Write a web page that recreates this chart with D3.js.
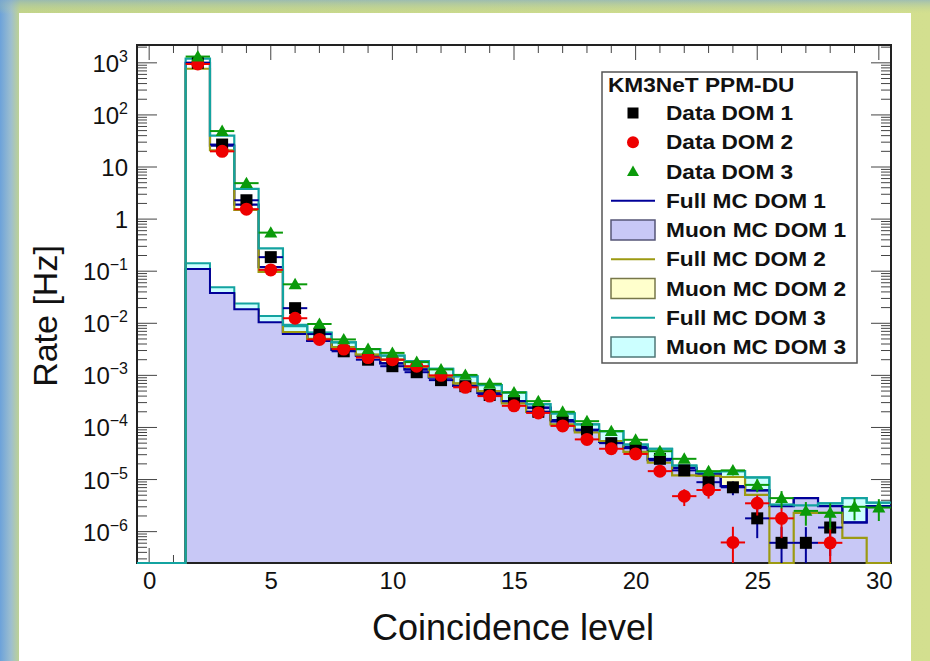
<!DOCTYPE html>
<html lang="en">
<head>
<meta charset="utf-8" />
<title>Coincidence level rates</title>
<script src="https://d3js.org/d3.v7.min.js"></script>
<style>
  body { margin: 0; }
  text { font-family: "Liberation Sans", Arial, Helvetica, sans-serif; }
</style>
</head>
<body>
<svg width="930" height="661"></svg>
<script>
// coincidence levels (bin centres)
var levels = d3.range(0, 31);

// Full MC, per DOM (Hz), bins 0..30
var fullMC1 = [0, 0, 1000, 25.7, 1.9, 0.12, 0.0064, 0.0046, 0.0031, 0.0024, 0.0017, 0.0013, 0.00091, 0.00063, 0.00046, 0.00032,
  0.00024, 0.000138, 0.000088, 0.000053, 0.000042, 0.0000235, 0.0000167, 0.000013, 0.0000075, 0.0000062, 0.0000031, 0.0000044, 0.0000031, 0.0000015, 0.0000031];
var fullMC2 = [0, 0, 770, 21, 1.5, 0.097, 0.0068, 0.005, 0.0035, 0.0025, 0.002, 0.00145, 0.00094, 0.0007, 0.0005, 0.00029,
  0.0002, 0.000115, 0.00008, 0.000055, 0.000034, 0.000021, 0.000012, 0.0000118, 0.0000112, 0.0000051, 0, 0.0000023, 0.0000023, 0.00000076, 0];
var fullMC3 = [0, 0, 1200, 40, 3.8, 0.275, 0.0093, 0.0066, 0.0043, 0.0032, 0.0024, 0.00187, 0.00134, 0.00096, 0.00065, 0.00047,
  0.00028, 0.000186, 0.000115, 0.000085, 0.000047, 0.000039, 0.0000186, 0.0000138, 0.0000145, 0.000011, 0.0000033, 0.0000032, 0.0000035, 0.0000044, 0.0000036];

// Muon-only MC, per DOM (Hz)
var muonMC1 = [0, 0, 0.11, 0.038, 0.0186, 0.0105, 0.0062, 0.0046, 0.0031, 0.0024, 0.0017, 0.0013, 0.00091, 0.00063, 0.00046, 0.00032,
  0.00024, 0.000138, 0.000088, 0.000053, 0.000042, 0.0000235, 0.0000167, 0.000013, 0.0000075, 0.0000062, 0.0000031, 0.0000044, 0.0000031, 0.0000015, 0.0000031];
var muonMC2 = [0, 0, 0.105, 0.036, 0.0178, 0.01, 0.0066, 0.005, 0.0035, 0.0025, 0.002, 0.00145, 0.00094, 0.0007, 0.0005, 0.00029,
  0.0002, 0.000115, 0.00008, 0.000055, 0.000034, 0.000021, 0.000012, 0.0000118, 0.0000112, 0.0000051, 0, 0.0000023, 0.0000023, 0.00000076, 0];
var muonMC3 = [0, 0, 0.142, 0.049, 0.024, 0.0138, 0.0088, 0.0066, 0.0043, 0.0032, 0.0024, 0.00187, 0.00134, 0.00096, 0.00065, 0.00047,
  0.00028, 0.000186, 0.000115, 0.000085, 0.000047, 0.000039, 0.0000186, 0.0000138, 0.0000145, 0.000011, 0.0000033, 0.0000032, 0.0000035, 0.0000044, 0.0000036];

// measured rates (null = no entry)
var data1 = [null, null, 1000, 27, 2.3, 0.186, 0.0195, 0.0062, 0.0029, 0.002, 0.0015, 0.00115, 0.00081, 0.00062, 0.00042, 0.00032,
  0.0002, 0.00013, 0.000091, 0.00005, 0.00004, 0.000025, 0.000015, 0.0000089, 0.0000071, 0.0000018, 0.00000061, 0.00000061, 0.0000012, null, null];
var data2 = [null, null, 950, 20, 1.55, 0.106, 0.0125, 0.0049, 0.0032, 0.0022, 0.002, 0.0015, 0.001, 0.00059, 0.0004, 0.00026,
  0.00019, 0.000107, 0.000059, 0.000039, 0.000031, 0.0000145, 0.0000048, 0.0000063, 0.00000062, 0.0000035, 0.0000018, null, 0.00000061, null, null];
var data3 = [null, null, 1320, 49, 4.9, 0.55, 0.056, 0.0097, 0.0049, 0.0032, 0.0027, 0.0018, 0.0013, 0.00102, 0.00069, 0.00047,
  0.00032, 0.0002, 0.000132, 0.000085, 0.000058, 0.000035, 0.000025, 0.0000145, 0.000015, 0.0000079, 0.0000044, 0.0000025, 0.0000023, 0.000003, 0.0000029];

// vertical errors on the measured rates (Hz)
var err1 = [0, 0, 0, 0, 0, 0, 0, 0, 0, 0, 0, 0, 0, 0, 0.000016, 0.000014,
  0.000011, 0.0000089, 0.0000075, 0.0000055, 0.0000049, 0.0000039, 0.000003, 0.0000023, 0.0000021, 0.00000105, 0.00000061, 0.00000061, 0.00000086, 0, 0];
var err2 = [0, 0, 0, 0, 0, 0, 0, 0, 0, 0, 0, 0, 0, 0, 0.000016, 0.000013,
  0.000011, 0.0000081, 0.000006, 0.0000049, 0.0000043, 0.000003, 0.0000017, 0.000002, 0.00000062, 0.00000146, 0.00000105, 0, 0.00000061, 0, 0];
var err3 = [0, 0, 0, 0, 0, 0, 0, 0, 0, 0, 0, 0, 0, 0, 0.000021, 0.000017,
  0.000014, 0.000011, 0.000009, 0.0000072, 0.0000059, 0.0000046, 0.0000039, 0.000003, 0.000003, 0.0000022, 0.0000016, 0.0000012, 0.0000012, 0.00000135, 0.0000013];

var xMajor = [0, 5, 10, 15, 20, 25, 30];
var yMajor = [1e3, 1e2, 10, 1, 1e-1, 1e-2, 1e-3, 1e-4, 1e-5, 1e-6];
var yExp = ["3", "2", "", "", "\u22121", "\u22122", "\u22123", "\u22124", "\u22125", "\u22126"];

var legendTitle = "KM3NeT PPM-DU";
var legendLabels = ["Data DOM 1", "Data DOM 2", "Data DOM 3", "Full MC DOM 1", "Muon MC DOM 1",
  "Full MC DOM 2", "Muon MC DOM 2", "Full MC DOM 3", "Muon MC DOM 3"];

// colours
var navy = "#000099", olive = "#9c9a12", teal = "#13a3a0";
var fillDom1 = "#c8c8f6", fillDom2 = "#ffffcc", fillDom3 = "#ccffff";
var red = "#ee0000", green = "#0a9a0a";

var svg = d3.select("svg");

// scales
var x = d3.scaleLinear().domain([-0.5, 30.5]).range([137, 891]);
var y = d3.scaleLog().domain([2.5e-7, 2200]).range([563, 45]);
var x0 = x.range()[0], x1 = x.range()[1], yb = y.range()[0], yt = y.range()[1];

// outer gradient frame + white pad
var defs = svg.append("defs");
var gh = defs.append("linearGradient").attr("id", "bgH");
gh.append("stop").attr("offset", "0%").attr("stop-color", "#6ca2da");
gh.append("stop").attr("offset", "1.2%").attr("stop-color", "#9ebfcf");
gh.append("stop").attr("offset", "2.2%").attr("stop-color", "#c3d58a");
gh.append("stop").attr("offset", "100%").attr("stop-color", "#d3df8f");
var gv = defs.append("linearGradient").attr("id", "bgV").attr("x1", 0).attr("x2", 0).attr("y1", 0).attr("y2", 1);
gv.append("stop").attr("offset", "0%").attr("stop-color", "#7fa9c8").attr("stop-opacity", 0.6);
gv.append("stop").attr("offset", "100%").attr("stop-color", "#c3d58a").attr("stop-opacity", 0);
defs.append("clipPath").attr("id", "frameClip")
  .append("rect").attr("x", x0).attr("y", yt).attr("width", x1 - x0).attr("height", yb - yt);
// slightly larger clip so lines sitting on the frame bottom stay visible
defs.append("clipPath").attr("id", "lineClip")
  .append("rect").attr("x", x0 - 2).attr("y", yt).attr("width", x1 - x0 + 4).attr("height", yb - yt + 2);

svg.append("rect").attr("width", 930).attr("height", 661).attr("fill", "url(#bgH)");
svg.append("rect").attr("width", 930).attr("height", 14).attr("fill", "url(#bgV)");
svg.append("rect").attr("x", 19).attr("y", 13).attr("width", 892).attr("height", 648).attr("fill", "#fff");

// ticks (drawn first: the histogram fills hide them, as in the original)
var ticks = svg.append("g").attr("stroke", "#444").attr("stroke-width", 1);
levels.forEach(function (k) {
  var len = xMajor.indexOf(k) >= 0 ? 15 : 8;
  ticks.append("line").attr("x1", x(k)).attr("x2", x(k)).attr("y1", yt).attr("y2", yt + len);
  ticks.append("line").attr("x1", x(k)).attr("x2", x(k)).attr("y1", yb).attr("y2", yb - len);
});
d3.range(-7, 4).forEach(function (d) {
  d3.range(1, 10).forEach(function (m) {
    var v = m * Math.pow(10, d);
    if (v < y.domain()[0] || v > y.domain()[1]) return;
    var len = m === 1 ? 20 : 10;
    ticks.append("line").attr("x1", x0).attr("x2", x0 + len).attr("y1", y(v)).attr("y2", y(v));
    ticks.append("line").attr("x1", x1).attr("x2", x1 - len).attr("y1", y(v)).attr("y2", y(v));
  });
});

// step outline of a histogram; closed = filled down to the frame bottom
function stepPath(vals, closed) {
  var p = d3.path();
  vals.forEach(function (v, i) {
    var yy = v > 0 ? y(v) : yb;
    var left = x(levels[i] - 0.5), right = x(levels[i] + 0.5);
    if (i === 0) {
      p.moveTo(left, closed ? yb : yy);
      if (closed) p.lineTo(left, yy);
    } else {
      p.lineTo(left, yy);
    }
    p.lineTo(right, yy);
  });
  if (closed) {
    p.lineTo(x(levels[levels.length - 1] + 0.5), yb);
    p.closePath();
  }
  return p.toString();
}

var fills = svg.append("g").attr("clip-path", "url(#frameClip)");

// muon MC, filled
[[muonMC3, fillDom3, teal], [muonMC2, fillDom2, olive], [muonMC1, fillDom1, navy]].forEach(function (h) {
  fills.append("path")
    .attr("d", stepPath(h[0], true))
    .attr("fill", h[1])
    .attr("stroke", h[2])
    .attr("stroke-width", 2);
});

// frame
svg.append("rect")
  .attr("x", x0).attr("y", yt).attr("width", x1 - x0).attr("height", yb - yt)
  .attr("fill", "none").attr("stroke", "#222").attr("stroke-width", 2);

// full MC, lines (on top of the frame, like ROOT)
var lines = svg.append("g").attr("clip-path", "url(#lineClip)");
[[fullMC1, navy], [fullMC2, olive], [fullMC3, teal]].forEach(function (h) {
  lines.append("path")
    .attr("d", stepPath(h[0], false))
    .attr("fill", "none")
    .attr("stroke", h[1])
    .attr("stroke-width", 2.2);
});

// data points with error bars
function marker(g, type, color, size) {
  if (type === "square") {
    g.append("rect").attr("x", -size / 2).attr("y", -size / 2).attr("width", size).attr("height", size).attr("fill", color);
  } else if (type === "circle") {
    g.append("circle").attr("r", size / 2 + 0.5).attr("fill", color);
  } else {
    var h = size * 0.9;
    g.append("path").attr("d", d3.line()([[0, -h * 0.6], [size / 2 + 0.5, h * 0.45], [-size / 2 - 0.5, h * 0.45]])).attr("fill", color);
  }
}

var series = [
  { vals: data1, errs: err1, marker: "square", color: "#000", bar: navy },
  { vals: data2, errs: err2, marker: "circle", color: red, bar: red },
  { vals: data3, errs: err3, marker: "triangle", color: green, bar: green }
];

var pts = svg.append("g").attr("clip-path", "url(#frameClip)");
series.forEach(function (s) {
  var g = pts.append("g");
  levels.forEach(function (k, i) {
    var v = s.vals[i];
    if (v == null) return;
    var e = s.errs[i];
    g.append("line")
      .attr("x1", x(k - 0.5)).attr("x2", x(k + 0.5))
      .attr("y1", y(v)).attr("y2", y(v))
      .attr("stroke", s.bar).attr("stroke-width", 2);
    if (e > 0) {
      g.append("line")
        .attr("x1", x(k)).attr("x2", x(k))
        .attr("y1", v - e > 0 ? y(v - e) : yb + 2)
        .attr("y2", y(v + e))
        .attr("stroke", s.bar).attr("stroke-width", 2);
    }
    var m = g.append("g").attr("transform", "translate(" + x(k) + "," + y(v) + ")");
    marker(m, s.marker, s.color, 12);
  });
});

// x tick labels
svg.append("g")
  .attr("transform", "translate(0," + yb + ")")
  .call(d3.axisBottom(x).tickValues(xMajor).tickSize(0).tickPadding(9).tickFormat(d3.format("d")))
  .call(function (g) { g.select(".domain").remove(); })
  .selectAll("text")
  .attr("font-family", "Liberation Sans, Arial, sans-serif")
  .attr("font-size", 24)
  .attr("fill", "#111");

// y tick labels, 10^n with superscripts
var yl = svg.append("g").attr("font-size", 24).attr("fill", "#111");
yMajor.forEach(function (v, i) {
  var t = yl.append("text")
    .attr("x", 128)
    .attr("y", y(v) + 9)
    .attr("text-anchor", "end");
  if (yExp[i] === "") {
    t.text(String(v));
  } else {
    t.append("tspan").text("10");
    t.append("tspan").attr("dy", -10).attr("font-size", 16).text(yExp[i]);
  }
});

// axis titles
svg.append("text")
  .attr("x", 513)
  .attr("y", 640)
  .attr("text-anchor", "middle")
  .attr("font-size", 36)
  .attr("fill", "#111")
  .text("Coincidence level");

svg.append("text")
  .attr("transform", "translate(57,316) rotate(-90)")
  .attr("text-anchor", "middle")
  .attr("font-size", 34)
  .attr("fill", "#111")
  .text("Rate [Hz]");

// legend
var lg = svg.append("g");
lg.append("rect")
  .attr("x", 602).attr("y", 72).attr("width", 255).attr("height", 291)
  .attr("fill", "#fff").attr("stroke", "#555").attr("stroke-width", 1.5);
lg.append("text")
  .attr("transform", "translate(608,92) scale(1.08,1)")
  .attr("font-size", 21).attr("font-weight", "bold").attr("fill", "#111")
  .text(legendTitle);

var rowY = d3.scaleLinear().domain([0, 8]).range([113, 347]);
legendLabels.forEach(function (label, i) {
  var cy = rowY(i);
  if (i < 3) {
    var s = series[i];
    var m = lg.append("g").attr("transform", "translate(633," + cy + ")");
    marker(m, s.marker, s.color, 11);
  } else if (label.indexOf("Full") === 0) {
    lg.append("line")
      .attr("x1", 611).attr("x2", 655).attr("y1", cy).attr("y2", cy)
      .attr("stroke", [navy, olive, teal][(i - 3) / 2]).attr("stroke-width", 2);
  } else {
    var j = (i - 4) / 2;
    lg.append("rect")
      .attr("x", 611).attr("y", cy - 10).attr("width", 44).attr("height", 20)
      .attr("fill", [fillDom1, fillDom2, fillDom3][j])
      .attr("stroke", ["#555577", "#77774a", "#4f7777"][j]).attr("stroke-width", 1.5);
  }
  lg.append("text")
    .attr("transform", "translate(666," + (cy + 7) + ") scale(1.08,1)")
    .attr("font-size", 21).attr("font-weight", "bold").attr("fill", "#111")
    .text(label);
});
</script>
</body>
</html>
